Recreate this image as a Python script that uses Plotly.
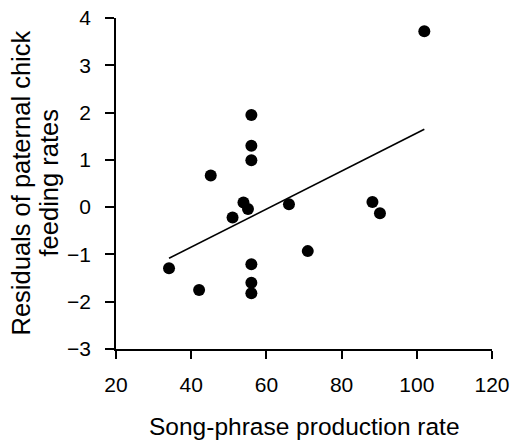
import numpy as np
import plotly.graph_objects as go

# Data
song_rate = [102, 56, 56, 56, 45.2, 53.9, 55.1, 51, 66, 88.2, 90.2, 71, 56, 56, 56, 42.1, 34.1]
residuals = [3.72, 1.95, 1.30, 0.99, 0.67, 0.10, -0.04, -0.22, 0.06, 0.11, -0.13, -0.93, -1.21, -1.60, -1.82, -1.75, -1.29]
x_ticks = [20, 40, 60, 80, 100, 120]
y_ticks = [-3, -2, -1, 0, 1, 2, 3, 4]
y_title_lines = ["Residuals of paternal chick", "feeding rates"]
x_title = "Song-phrase production rate"

# Least-squares regression line over observed x range
slope, intercept = np.polyfit(song_rate, residuals, 1)
fit_x = [min(song_rate), max(song_rate)]
fit_y = [slope * v + intercept for v in fit_x]

FONT = "Liberation Sans, Arial, sans-serif"
L, R, T, B = 116, 20, 18, 91
PW, PH = 512 - L - R, 440 - T - B

fig = go.Figure()
fig.add_trace(go.Scatter(x=fit_x, y=fit_y, mode="lines",
                         line=dict(color="black", width=1.6), showlegend=False))
fig.add_trace(go.Scatter(x=song_rate, y=residuals, mode="markers",
                         marker=dict(color="black", size=12), showlegend=False,
                         cliponaxis=False))

y_title_px = [20, 48]
annotations = [
    dict(text=txt, textangle=-90, xref="paper", yref="paper",
         x=(px - L) / PW, y=0.5, xanchor="center", yanchor="middle",
         showarrow=False, font=dict(size=25.5, family=FONT, color="black"))
    for txt, px in zip(y_title_lines, y_title_px)
]
annotations.append(
    dict(text=x_title, xref="paper", yref="paper",
         x=0.5, y=(349 - 426) / PH, xanchor="center", yanchor="middle",
         showarrow=False, font=dict(size=24.5, family=FONT, color="black")))

fig.update_layout(
    width=512, height=440,
    margin=dict(l=L, r=R, t=T, b=B),
    paper_bgcolor="white", plot_bgcolor="white",
    font=dict(family=FONT, color="black"),
    xaxis=dict(range=[20, 120], tickvals=x_ticks, ticks="outside", ticklen=8,
               tickwidth=1.5, tickcolor="black", showline=True, linecolor="black",
               linewidth=1.5, showgrid=False, zeroline=False, automargin=False,
               tickfont=dict(size=21, family=FONT, color="black"),
               ticklabelstandoff=8),
    yaxis=dict(range=[-3, 4], tickvals=y_ticks, ticks="outside", ticklen=9,
               tickwidth=1.5, tickcolor="black", showline=True, linecolor="black",
               linewidth=1.5, showgrid=False, zeroline=False, automargin=False,
               tickfont=dict(size=21, family=FONT, color="black"),
               ticklabelstandoff=10),
    annotations=annotations,
)

fig.write_html("out.html")
